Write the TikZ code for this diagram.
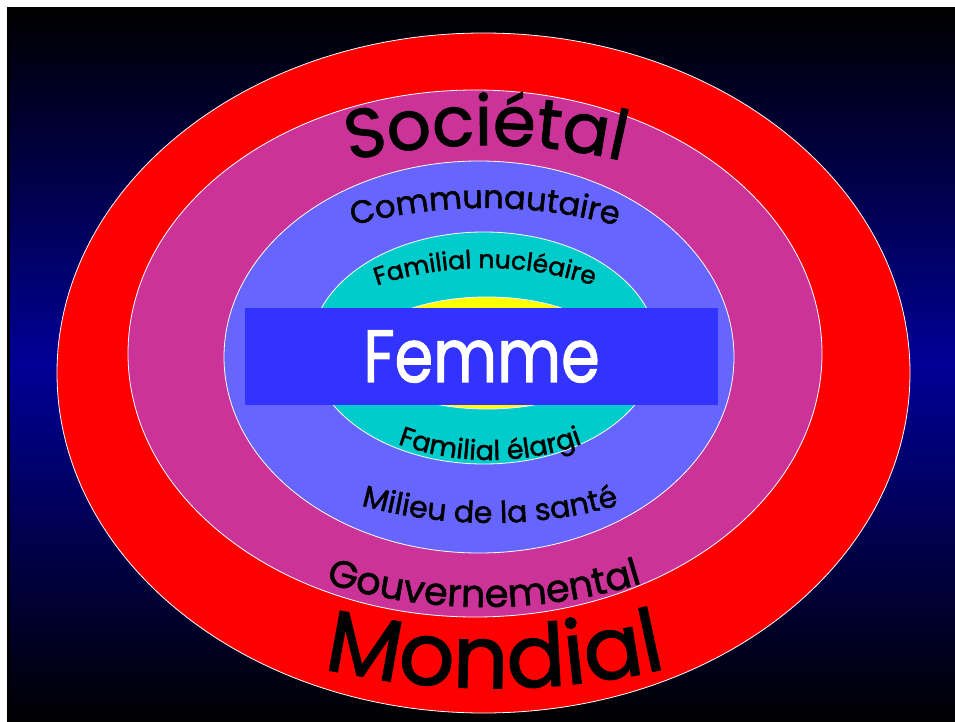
\documentclass[tikz,border=0pt]{standalone}
\usepackage{fontspec}
\setmainfont{Poppins}[FakeBold=1.6]
\usetikzlibrary{decorations.text}
\definecolor{navy}{HTML}{000096}
\definecolor{ringred}{HTML}{FF0000}
\definecolor{ringmag}{HTML}{CC3399}
\definecolor{ringperi}{HTML}{6666FF}
\definecolor{ringcyan}{HTML}{00CCCC}
\definecolor{ringyel}{HTML}{FFFF00}
\definecolor{femblue}{HTML}{3333FF}
\newcommand\lblfont[1]{\fontsize{#1}{#1}\selectfont}
\tikzset{
  ring/.style={draw=white, line width=0.8pt},
  toparc/.style={decorate, decoration={text along path, text align=center, text={#1}}},
}
\begin{document}
\begin{tikzpicture}[x=1pt,y=1pt]
\useasboundingbox (0,0) rectangle (955,-722);
\fill[white] (0,0) rectangle (955,-722);
\shade[top color=black, bottom color=navy] (7,-8) rectangle (955,-366);
\shade[top color=navy, bottom color=black] (7,-365) rectangle (955,-722);
\fill[black] (7,-8) rectangle (10,-722);
% rings
\filldraw[ring, fill=ringred]  (483.5,-373) ellipse [x radius=426.5, y radius=340];
\filldraw[ring, fill=ringmag]  (475,-353.5) ellipse [x radius=347, y radius=263.5];
\filldraw[ring, fill=ringperi] (479,-357) ellipse [x radius=255, y radius=196];
\filldraw[ring, fill=ringcyan] (484,-348) ellipse [x radius=173, y radius=116];
\filldraw[ring, fill=ringyel]  (487,-353) ellipse [x radius=125, y radius=56];
% central box
\node[fill=femblue, minimum width=473pt, minimum height=97pt, inner sep=0pt,
      text=white, font=\lblfont{74}] (femme) at (481.5,-356.5)
      {\scalebox{0.84}[1]{Femme}};
% curved labels (top)
\path[toparc={|\lblfont{69}|Sociétal}, shift={(486,-745)}]
  (115:600) arc[start angle=115, end angle=65, radius=600];
\path[toparc={|\lblfont{32}|Communautaire}, shift={(485,-714)}]
  (118:506) arc[start angle=118, end angle=62, radius=506];
\path[toparc={|\lblfont{25}|Familial nucléaire}, shift={(485,-609)}]
  (122:341) arc[start angle=122, end angle=58, radius=341];
% curved labels (bottom)
\path[toparc={|\lblfont{27}|Familial élargi}, shift={(490,-187)}]
  (238:273) arc[start angle=238, end angle=302, radius=273];
\path[toparc={|\lblfont{30}|Milieu de la santé}, shift={(490,-45)}]
  (248:478) arc[start angle=248, end angle=292, radius=478];
\path[toparc={|\lblfont{38}|Gouvernemental}, shift={(484,-70)}]
  (246:537) arc[start angle=246, end angle=294, radius=537];
\path[toparc={|\lblfont{87}|Mondial}, shift={(495,71)}]
  (252:759) arc[start angle=252, end angle=288, radius=759];
\end{tikzpicture}
\end{document}
